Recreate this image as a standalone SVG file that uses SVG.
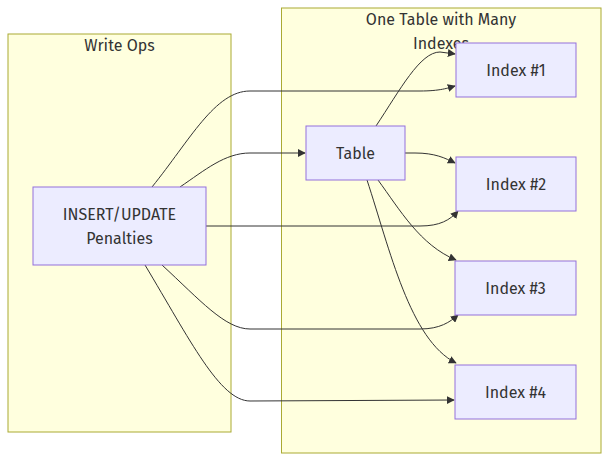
<svg xmlns="http://www.w3.org/2000/svg" width="609" height="462" viewBox="0 0 609 462">
<style>
.cluster{fill:#ffffde;stroke:#aaaa33;stroke-width:1}
.node{fill:#ECECFF;stroke:#9370DB;stroke-width:1}
text{font-family:"Fira Sans","Open Sans","Noto Sans",sans-serif;font-size:16px;fill:#333;text-anchor:middle;dominant-baseline:central}
.edge{fill:none;stroke:#333;stroke-width:1}
</style>
<defs>
<marker id="arrow" viewBox="0 0 10 10" refX="9" refY="5" markerWidth="8" markerHeight="8" markerUnits="userSpaceOnUse" orient="auto">
<path d="M0,0 L10,5 L0,10 z" fill="#333"/>
</marker>
</defs>
<g id="cluster-write">
<rect class="cluster" x="8" y="34" width="223" height="398"/>
<text x="119.5" y="45">Write Ops</text>
</g>
<g id="cluster-table">
<rect class="cluster" x="281.5" y="8" width="319.5" height="445"/>
<text x="441" y="19">One Table with Many</text>
<text x="441" y="43">Indexes</text>
</g>
<g id="edges">
<path class="edge" d="M152,187 C190,140 215,91 250,91 L420,91 C440,91 448,88 455,86" marker-end="url(#arrow)"/>
<path class="edge" d="M180,187 C205,170 225,153 250,153 L305,153" marker-end="url(#arrow)"/>
<path class="edge" d="M376,126 C400,90 420,52 440,52 L455,54" marker-end="url(#arrow)"/>
<path class="edge" d="M405,153 L415,153 C435,153 445,158 455,163" marker-end="url(#arrow)"/>
<path class="edge" d="M206,226 L420,226 C440,226 450,220 458,211" marker-end="url(#arrow)"/>
<path class="edge" d="M378,180 C400,210 420,245 456,260" marker-end="url(#arrow)"/>
<path class="edge" d="M367,180 C390,250 410,340 456,363" marker-end="url(#arrow)"/>
<path class="edge" d="M162,265 C200,300 225,329 250,329 L420,329 C440,329 450,322 458,315" marker-end="url(#arrow)"/>
<path class="edge" d="M145,265 C190,340 220,401 250,401 L454,400" marker-end="url(#arrow)"/>
</g>
<g id="node-insert">
<rect class="node" x="33" y="187" width="173" height="78"/>
<text x="119.5" y="214">INSERT/UPDATE</text>
<text x="119.5" y="238">Penalties</text>
</g>
<g id="node-table">
<rect class="node" x="306" y="126" width="99" height="54"/>
<text x="355.5" y="153">Table</text>
</g>
<g id="node-index1">
<rect class="node" x="456" y="43" width="120" height="54"/>
<text x="516" y="70">Index #1</text>
</g>
<g id="node-index2">
<rect class="node" x="456" y="157" width="120" height="54"/>
<text x="516" y="184">Index #2</text>
</g>
<g id="node-index3">
<rect class="node" x="455" y="261" width="121" height="54"/>
<text x="515.5" y="288">Index #3</text>
</g>
<g id="node-index4">
<rect class="node" x="455" y="365" width="121" height="54"/>
<text x="515.5" y="392">Index #4</text>
</g>
</svg>
